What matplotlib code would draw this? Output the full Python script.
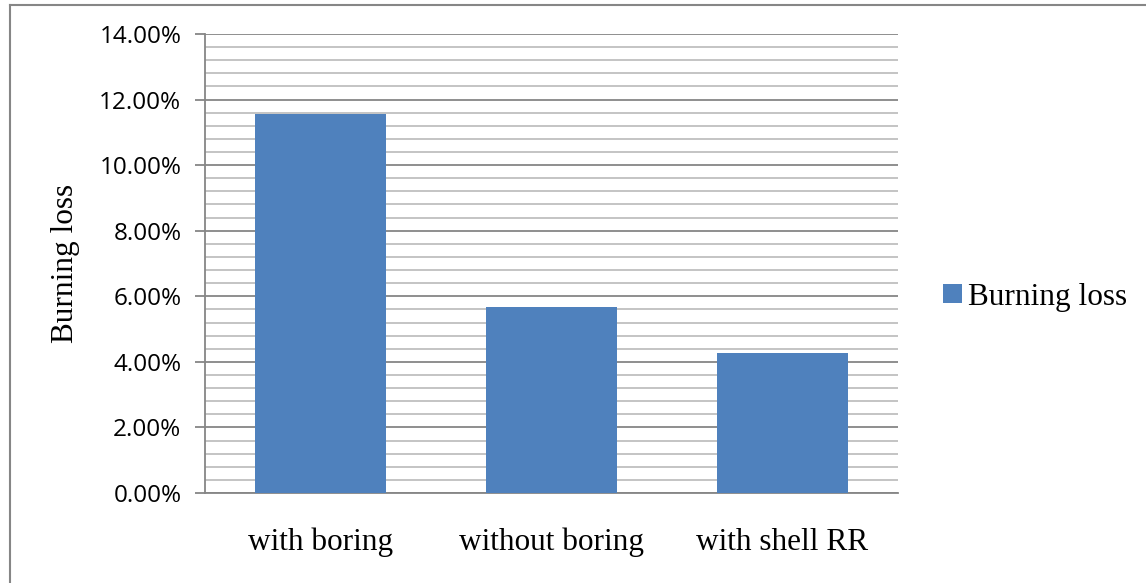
import matplotlib.pyplot as plt
import numpy as np
from matplotlib.lines import Line2D
from matplotlib.ticker import MultipleLocator, FuncFormatter

categories = ["with boring", "without boring", "with shell RR"]
burning_loss = [0.1155, 0.0567, 0.0428]
series_name = "Burning loss"

bar_color = "#4F81BD"
serif = ["Liberation Serif", "DejaVu Serif"]
sans = ["Open Sans", "Liberation Sans", "DejaVu Sans"]

fig = plt.figure(figsize=(11.46, 5.83), dpi=100)
ax = fig.add_axes([205 / 1146, 90 / 583, 693 / 1146, 459 / 583])

x = np.arange(len(categories))
ax.bar(x, burning_loss, width=0.57, color=bar_color, label=series_name, zorder=3)

ax.set_xlim(-0.5, len(categories) - 0.5)
ax.set_ylim(0, 0.14)
ax.yaxis.set_major_locator(MultipleLocator(0.02))
ax.yaxis.set_minor_locator(MultipleLocator(0.004))
ax.yaxis.set_major_formatter(FuncFormatter(lambda v, p: f"{v * 100:.2f}%"))
ax.grid(which="major", axis="y", color="#868686", linewidth=1.3, zorder=0)
ax.grid(which="minor", axis="y", color="#bfbfbf", linewidth=1.3, zorder=0)

for s in ["top", "right"]:
    ax.spines[s].set_visible(False)
ax.spines["left"].set_color("#868686")
ax.spines["bottom"].set_color("#868686")
ax.spines["left"].set_linewidth(1.3)
ax.spines["bottom"].set_linewidth(1.3)

ax.tick_params(axis="y", which="major", length=7, color="#868686", width=1.3,
               labelsize=17.5, pad=10)
ax.tick_params(axis="y", which="minor", length=0)
ax.tick_params(axis="x", length=0, pad=25)
for lbl in ax.get_yticklabels():
    lbl.set_family(sans)

ax.set_xticks(x)
ax.set_xticklabels(categories, family=serif, fontsize=22.5)
ax.set_ylabel(series_name, family=serif, fontsize=22.5, labelpad=14)

leg = ax.legend(loc="center left", bbox_to_anchor=(1.025, 0.427), frameon=False,
                prop={"family": serif, "size": 22.5}, handlelength=0.6,
                handleheight=0.6, handletextpad=0.2)

# chart area border (left and top only visible)
fig.add_artist(Line2D([10 / 1146, 10 / 1146], [0, 1 - 5 / 583],
                      transform=fig.transFigure, color="#868686", linewidth=1.5))
fig.add_artist(Line2D([10 / 1146, 1], [1 - 5 / 583, 1 - 5 / 583],
                      transform=fig.transFigure, color="#868686", linewidth=1.5))

fig.savefig("out.png", dpi=100, facecolor="white")
